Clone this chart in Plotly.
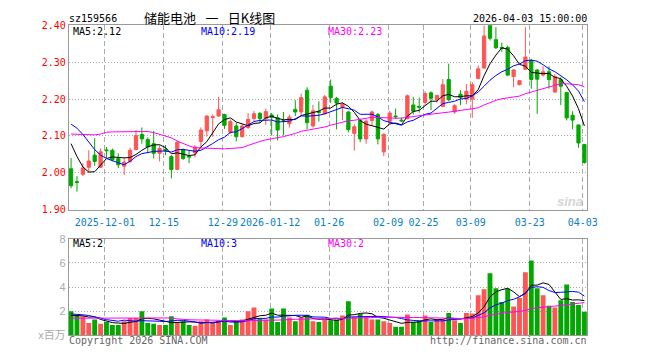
import plotly.graph_objects as go

W, H = 660, 360

# ---------------- data ----------------
tick_idx = [6, 16, 26, 34, 44, 54, 60, 68, 78, 87]
tick_text = ["2025-12-01", "12-15", "12-29", "2026-01-12", "01-26",
             "02-09", "02-25", "03-09", "03-23", "04-03"]

opens = [
    2.011, 1.976, 1.996, 2.015, 2.048, 2.015, 2.062, 2.061, 2.039, 2.018,
    2.031, 2.063, 2.104, 2.090, 2.079, 2.053, 2.063, 2.044, 2.009, 2.063,
    2.045, 2.054, 2.085, 2.114, 2.150, 2.154, 2.158, 2.110, 2.127, 2.098,
    2.123, 2.147, 2.161, 2.147, 2.157, 2.149, 2.141, 2.133, 2.172, 2.165,
    2.224, 2.127, 2.166, 2.160, 2.235, 2.202, 2.177, 2.165, 2.107, 2.142,
    2.092, 2.142, 2.158, 2.057, 2.140, 2.154, 2.143, 2.147, 2.184, 2.180,
    2.191, 2.217, 2.199, 2.180, 2.253, 2.165, 2.213, 2.200, 2.200, 2.256,
    2.284, 2.400, 2.361, 2.340, 2.340, 2.261, 2.239, 2.281, 2.305, 2.279,
    2.265, 2.274, 2.219, 2.253, 2.218, 2.156, 2.130, 2.077]

closes = [
    1.965, 1.974, 2.013, 2.032, 2.031, 2.057, 2.060, 2.035, 2.022, 2.029,
    2.061, 2.101, 2.092, 2.070, 2.053, 2.066, 2.060, 2.009, 2.083, 2.039,
    2.043, 2.070, 2.116, 2.154, 2.152, 2.171, 2.129, 2.139, 2.098, 2.127,
    2.145, 2.160, 2.147, 2.166, 2.150, 2.116, 2.140, 2.151, 2.165, 2.204,
    2.136, 2.168, 2.164, 2.206, 2.204, 2.189, 2.186, 2.117, 2.125, 2.092,
    2.140, 2.165, 2.092, 2.104, 2.162, 2.152, 2.141, 2.209, 2.167, 2.178,
    2.215, 2.202, 2.210, 2.239, 2.198, 2.182, 2.204, 2.221, 2.239, 2.282,
    2.371, 2.365, 2.339, 2.338, 2.265, 2.279, 2.250, 2.314, 2.253, 2.254,
    2.274, 2.253, 2.261, 2.235, 2.149, 2.143, 2.081, 2.028]

highs = [
    2.040, 1.991, 2.026, 2.061, 2.094, 2.066, 2.070, 2.066, 2.053, 2.041,
    2.068, 2.116, 2.123, 2.096, 2.114, 2.075, 2.075, 2.048, 2.088, 2.066,
    2.061, 2.075, 2.123, 2.156, 2.158, 2.206, 2.160, 2.145, 2.136, 2.132,
    2.162, 2.168, 2.165, 2.174, 2.162, 2.158, 2.165, 2.158, 2.197, 2.215,
    2.232, 2.184, 2.194, 2.211, 2.253, 2.206, 2.191, 2.168, 2.132, 2.147,
    2.145, 2.169, 2.162, 2.107, 2.168, 2.174, 2.150, 2.212, 2.206, 2.204,
    2.221, 2.221, 2.211, 2.254, 2.296, 2.186, 2.224, 2.241, 2.246, 2.291,
    2.400, 2.400, 2.395, 2.353, 2.345, 2.281, 2.252, 2.395, 2.309, 2.281,
    2.289, 2.289, 2.268, 2.259, 2.218, 2.167, 2.130, 2.077]

lows = [
    1.958, 1.949, 1.991, 2.000, 2.019, 2.013, 2.039, 2.031, 2.013, 1.994,
    2.026, 2.061, 2.079, 2.053, 2.039, 2.031, 2.048, 1.985, 2.009, 2.035,
    2.026, 2.042, 2.066, 2.098, 2.098, 2.152, 2.119, 2.105, 2.085, 2.096,
    2.119, 2.140, 2.136, 2.130, 2.101, 2.088, 2.101, 2.123, 2.154, 2.154,
    2.118, 2.123, 2.139, 2.158, 2.189, 2.118, 2.143, 2.110, 2.060, 2.083,
    2.079, 2.127, 2.077, 2.045, 2.133, 2.147, 2.138, 2.145, 2.158, 2.163,
    2.182, 2.170, 2.190, 2.178, 2.194, 2.160, 2.184, 2.186, 2.149, 2.254,
    2.283, 2.359, 2.336, 2.328, 2.262, 2.232, 2.237, 2.279, 2.228, 2.160,
    2.261, 2.228, 2.217, 2.184, 2.142, 2.118, 2.068, 2.025]

volumes = [
    1.99, 1.70, 1.59, 1.03, 1.32, 0.95, 1.11, 0.85, 0.85, 1.17,
    1.43, 1.43, 1.99, 1.03, 0.95, 0.85, 0.85, 1.59, 1.11, 1.17,
    0.85, 0.79, 1.17, 1.32, 1.03, 1.22, 1.48, 0.85, 1.11, 1.32,
    1.99, 2.30, 1.38, 1.32, 2.23, 1.11, 2.23, 1.48, 1.17, 1.48,
    1.70, 1.17, 1.11, 1.32, 1.25, 1.32, 1.64, 2.83, 1.51, 1.77,
    1.51, 1.32, 1.32, 1.17, 1.03, 0.72, 0.72, 1.72, 1.11, 1.25,
    1.64, 1.11, 1.32, 1.32, 1.85, 1.25, 1.03, 1.85, 1.80, 3.31,
    3.81, 5.14, 3.89, 2.75, 3.87, 2.38, 3.10, 5.22, 6.20, 3.89,
    3.31, 2.44, 2.30, 2.91, 4.21, 2.75, 2.52, 1.96]

# moving-average values before enough history exists in the window
ma5_head = [2.079, 2.044, 2.016, 2.002]
ma10_head = [2.132, 2.121, 2.104, 2.083, 2.063, 2.048, 2.039, 2.033, 2.028]
ma30_head = [2.105, 2.104, 2.104, 2.103, 2.103, 2.105, 2.110, 2.111, 2.111, 2.111,
             2.112, 2.113, 2.113, 2.112, 2.109, 2.105, 2.100, 2.095, 2.086, 2.079,
             2.073, 2.068, 2.067, 2.066, 2.066, 2.066, 2.065, 2.066, 2.067]
vma5_head = [1.64, 1.64, 1.62, 1.51]
vma10_head = [1.77, 1.75, 1.70, 1.64, 1.56, 1.43, 1.30, 1.22, 1.17]
vma30_head = [1.42, 1.42, 1.42, 1.42, 1.42, 1.43, 1.43, 1.43, 1.43, 1.43,
              1.43, 1.44, 1.44, 1.44, 1.44, 1.44, 1.44, 1.44, 1.36, 1.30,
              1.29, 1.28, 1.27, 1.26, 1.24, 1.22, 1.20, 1.20, 1.20]

legend_main = [("MA5:2.12", "#000000"), ("MA10:2.19", "#0000ff"), ("MA30:2.23", "#ff00ff")]
legend_vol = [("MA5:2", "#000000"), ("MA10:3", "#0000ff"), ("MA30:2", "#ff00ff")]

# ---------------- helpers ----------------
N = len(closes)
idx = list(range(N))


def moving(vals, n, head):
    out = list(head)
    for i in range(len(head), len(vals)):
        w = vals[i - n + 1:i + 1]
        out.append(sum(w) / n)
    return out


ma5 = moving(closes, 5, ma5_head)
ma10 = moving(closes, 10, ma10_head)
ma30 = moving(closes, 30, ma30_head)
vma5 = moving(volumes, 5, vma5_head)
vma10 = moving(volumes, 10, vma10_head)
vma30 = moving(volumes, 30, vma30_head)

RED = "#ff5555"
GREEN = "#00a800"
vol_colors = [RED if c >= o else GREEN for o, c in zip(opens, closes)]


def px(x):
    return x / W


def py(y):
    return 1 - y / H


MONO = "DejaVu Sans Mono"

fig = go.Figure()

fig.add_trace(go.Candlestick(
    x=idx, open=opens, high=highs, low=lows, close=closes,
    increasing=dict(line=dict(color=RED, width=1), fillcolor=RED),
    decreasing=dict(line=dict(color=GREEN, width=1), fillcolor=GREEN),
    whiskerwidth=0, showlegend=False, hoverinfo="skip",
    xaxis="x", yaxis="y"))

for series, col in [(ma5, "#000000"), (ma10, "#0000ff"), (ma30, "#ff00ff")]:
    fig.add_trace(go.Scatter(x=idx, y=series, mode="lines",
                             line=dict(color=col, width=1),
                             showlegend=False, hoverinfo="skip",
                             xaxis="x", yaxis="y"))

fig.add_trace(go.Bar(x=idx, y=volumes, width=0.82,
                     marker=dict(color=vol_colors, line=dict(width=0)),
                     showlegend=False, hoverinfo="skip",
                     xaxis="x2", yaxis="y2"))

for series, col in [(vma5, "#000000"), (vma10, "#0000ff"), (vma30, "#ff00ff")]:
    fig.add_trace(go.Scatter(x=idx, y=series, mode="lines",
                             line=dict(color=col, width=1),
                             showlegend=False, hoverinfo="skip",
                             xaxis="x2", yaxis="y2"))

xdom = [px(70), px(597)]
xrange_ = [-0.38, 87.45]
tickpos = [i - 0.27 for i in tick_idx]

common_x = dict(domain=xdom, range=xrange_, tickmode="array", tickvals=tickpos,
                showgrid=True, gridcolor="#aaaaaa", gridwidth=1, griddash="5px,3px",
                showline=True, mirror=True, linecolor="#999999", linewidth=1,
                zeroline=False, ticks="", fixedrange=True)

fig.update_layout(
    width=W, height=H,
    margin=dict(l=0, r=0, t=0, b=0),
    paper_bgcolor="white", plot_bgcolor="white",
    boxgap=0.22,
    xaxis=dict(**common_x, anchor="y", ticktext=tick_text,
               tickfont=dict(family=MONO, size=10, color="#0a7fc9"),
               ticklabelstandoff=3,
               rangeslider=dict(visible=False)),
    yaxis=dict(domain=[py(210.7), py(20)], range=[1.90, 2.40],
               tickmode="array", tickvals=[1.9, 2.0, 2.1, 2.2, 2.3, 2.4],
               ticktext=["1.90", "2.00", "2.10", "2.20", "2.30", "2.40"],
               tickfont=dict(family=MONO, size=10, color="#ff0000"),
               showgrid=True, gridcolor="#aaaaaa", griddash="1px,2px",
               showline=True, mirror=True, linecolor="#999999",
               zeroline=False, ticks="", fixedrange=True),
    xaxis2=dict(**common_x, anchor="y2", showticklabels=False),
    yaxis2=dict(domain=[py(340.7), py(240.7)], range=[0, 8],
                tickmode="array", tickvals=[0, 2, 4, 6, 8],
                ticktext=["x百万", "2", "4", "6", "8"],
                tickfont=dict(family="Liberation Sans, Noto Sans CJK SC", size=11, color="#aaaaaa"),
                showgrid=True, gridcolor="#aaaaaa", griddash="1px,2px",
                showline=True, mirror=True, linecolor="#999999",
                zeroline=False, ticks="", fixedrange=True),
)

ann = []


def text(x, y, s, color="#000000", anchor="left", size=10, family=MONO, **kw):
    ann.append(dict(x=px(x), y=py(y), xref="paper", yref="paper", text=s,
                    showarrow=False, xanchor=anchor, yanchor="middle",
                    font=dict(family=family, size=size, color=color),
                    borderpad=0, **kw))


text(69, 13, "sz159566")
text(213, 12, "储能电池\u2002 一\u2002 日K线图", size=13, family="Noto Sans CJK SC", anchor="center")
text(598, 13, "2026-04-03 15:00:00", anchor="right")
for (s, c), xx in zip(legend_main, [73, 203, 333]):
    text(xx, 26, s, color=c)
for (s, c), xx in zip(legend_vol, [73, 203, 333]):
    text(xx, 246, s, color=c)
text(69, 346, "Copyright 2026 SINA.COM", color="#666666")
text(598, 346, "http://finance.sina.com.cn", color="#666666", anchor="right")
text(580, 202, "<b><i>sina</i></b>", color="#d5d5d5", anchor="center", size=13,
     family="Liberation Sans")

fig.update_layout(annotations=ann)

fig.write_html("out.html")
